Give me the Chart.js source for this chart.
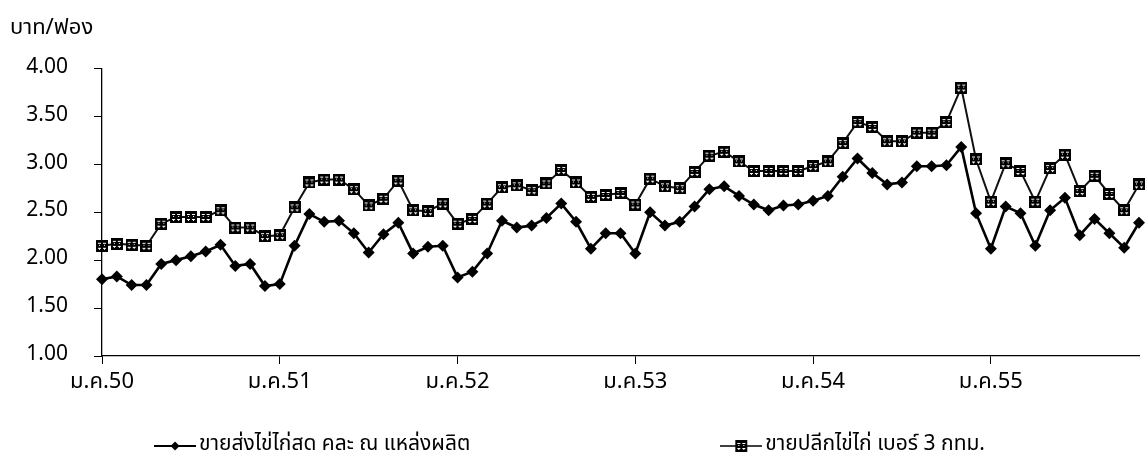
<!DOCTYPE html>
<html>
<head>
<meta charset="utf-8">
<script src="https://cdn.jsdelivr.net/npm/chart.js@4.4.0/dist/chart.umd.min.js"></script>
<style>
  html, body { margin: 0; padding: 0; background: #fff; }
</style>
</head>
<body>
<canvas id="eggChart" width="1147" height="469"></canvas>
<script>
// ปี / เดือน (ม.ค.50 - พ.ย.55)
const years = ['50', '51', '52', '53', '54', '55'];
const months = ['ม.ค.', 'ก.พ.', 'มี.ค.', 'เม.ย.', 'พ.ค.', 'มิ.ย.', 'ก.ค.', 'ส.ค.', 'ก.ย.', 'ต.ค.', 'พ.ย.', 'ธ.ค.'];
const pointCount = 71;

// ขายส่งไข่ไก่สด คละ ณ แหล่งผลิต
const wholesale = [
  1.80, 1.83, 1.74, 1.74, 1.96, 2.00, 2.04, 2.09, 2.16, 1.94, 1.96, 1.73,
  1.75, 2.15, 2.48, 2.40, 2.41, 2.28, 2.08, 2.27, 2.39, 2.07, 2.14, 2.15,
  1.82, 1.88, 2.07, 2.41, 2.34, 2.36, 2.44, 2.59, 2.40, 2.12, 2.28, 2.28,
  2.07, 2.50, 2.36, 2.40, 2.56, 2.74, 2.77, 2.67, 2.58, 2.52, 2.57, 2.58,
  2.62, 2.67, 2.87, 3.06, 2.91, 2.79, 2.81, 2.98, 2.98, 2.99, 3.18, 2.49,
  2.12, 2.56, 2.49, 2.15, 2.52, 2.65, 2.26, 2.43, 2.28, 2.13, 2.39
];

// ขายปลีกไข่ไก่ เบอร์ 3 กทม.
const retail = [
  2.15, 2.17, 2.16, 2.15, 2.38, 2.45, 2.45, 2.45, 2.52, 2.34, 2.34, 2.25,
  2.26, 2.55, 2.81, 2.84, 2.84, 2.74, 2.57, 2.64, 2.83, 2.52, 2.51, 2.59,
  2.38, 2.43, 2.59, 2.76, 2.78, 2.73, 2.80, 2.94, 2.81, 2.66, 2.68, 2.70,
  2.58, 2.85, 2.77, 2.75, 2.92, 3.09, 3.13, 3.03, 2.93, 2.93, 2.93, 2.93,
  2.98, 3.03, 3.22, 3.44, 3.39, 3.24, 3.24, 3.33, 3.33, 3.44, 3.80, 3.05,
  2.61, 3.01, 2.93, 2.61, 2.96, 3.10, 2.72, 2.88, 2.69, 2.52, 2.79
];

const seriesNames = ['ขายส่งไข่ไก่สด คละ ณ แหล่งผลิต', 'ขายปลีกไข่ไก่ เบอร์ 3 กทม.'];
const yTicks = [1.00, 1.50, 2.00, 2.50, 3.00, 3.50, 4.00];
const yTitle = 'บาท/ฟอง';

const FONT = 'Tahoma, "Noto Sans Thai", "Noto Sans", "DejaVu Sans", sans-serif';

// ป้ายแกน x
const labels = [];
years.forEach(y => months.forEach(m => labels.push(m + y)));
labels.length = pointCount;

// สี่เหลี่ยมลายตาราง (จุดของเส้นขายปลีก)
function makeSquare() {
  const c = document.createElement('canvas');
  c.width = 12; c.height = 12;
  const g = c.getContext('2d');
  g.fillStyle = '#000';
  g.fillRect(0, 0, 12, 12);
  g.fillStyle = '#fff';
  [[2, 3], [7, 3], [2, 8], [7, 8]].forEach(p => g.fillRect(p[0], p[1], 3, 1));
  [[3, 5], [8, 5], [3, 9], [8, 9]].forEach(p => g.fillRect(p[0], p[1], 1, 1));
  return c;
}

// ไอคอนคำอธิบาย: เส้น + จุด
function makeLegendIcon(kind) {
  const c = document.createElement('canvas');
  c.width = 42; c.height = 14;
  const g = c.getContext('2d');
  g.strokeStyle = '#000';
  g.lineWidth = kind === 'diamond' ? 2 : 1.5;
  g.beginPath(); g.moveTo(0, 7); g.lineTo(42, 7); g.stroke();
  g.fillStyle = '#000';
  if (kind === 'diamond') {
    g.beginPath(); g.moveTo(21, 2.5); g.lineTo(25.5, 7); g.lineTo(21, 11.5); g.lineTo(16.5, 7); g.closePath(); g.fill();
  } else {
    g.drawImage(makeSquare(), 15, 1);
  }
  return c;
}

const squareImg = makeSquare();
const legendIcons = [makeLegendIcon('diamond'), makeLegendIcon('square')];

const bottomLegend = {
  id: 'bottomLegend',
  afterDraw(chart) {
    const ctx = chart.ctx;
    ctx.save();
    ctx.font = '21px ' + FONT;
    ctx.textBaseline = 'middle';
    ctx.fillStyle = '#000';
    const gap = 250;
    const items = chart.data.datasets.map((ds, i) => ({
      text: ds.label, icon: legendIcons[i], w: ctx.measureText(ds.label).width
    }));
    const total = items.reduce((s, it) => s + it.icon.width + 3 + it.w, 0) + gap * (items.length - 1);
    let x = (chart.width - total) / 2 - 4;
    const y = 446;
    items.forEach(it => {
      ctx.drawImage(it.icon, x, y - it.icon.height / 2);
      x += it.icon.width + 3;
      ctx.fillText(it.text, x, y);
      x += it.w + gap;
    });
    ctx.restore();
  }
};

const ctx = document.getElementById('eggChart').getContext('2d');
new Chart(ctx, {
  type: 'line',
  data: {
    labels: labels,
    datasets: [
      {
        label: seriesNames[0],
        data: wholesale,
        borderColor: '#000',
        backgroundColor: '#000',
        borderWidth: 2.6,
        pointStyle: 'rectRot',
        pointRadius: 6,
        pointBorderWidth: 0,
        tension: 0
      },
      {
        label: seriesNames[1],
        data: retail,
        borderColor: '#111',
        backgroundColor: '#000',
        borderWidth: 2,
        pointStyle: squareImg,
        pointRadius: 6,
        tension: 0
      }
    ]
  },
  options: {
    responsive: false,
    animation: false,
    devicePixelRatio: 1,
    layout: { padding: { left: 10, right: 5, top: 0, bottom: 53 } },
    plugins: {
      legend: { display: false },
      tooltip: { enabled: false },
      title: {
        display: true,
        text: yTitle,
        align: 'start',
        color: '#000',
        font: { family: FONT, size: 22, weight: 'normal' },
        padding: { top: 16, bottom: 26 }
      }
    },
    scales: {
      x: {
        type: 'category',
        offset: false,
        border: { color: '#000', width: 1.3 },
        grid: {
          drawOnChartArea: false,
          drawTicks: true,
          tickLength: 8,
          color: c => (c.index % 12 === 0 ? '#000' : 'rgba(0,0,0,0)')
        },
        ticks: {
          autoSkip: false,
          maxRotation: 0,
          minRotation: 0,
          padding: 6,
          color: '#000',
          font: { family: FONT, size: 22 },
          callback: (v, i) => (i % 12 === 0 ? labels[i] : '')
        },
        afterFit: s => { s.height = 60; }
      },
      y: {
        min: yTicks[0],
        max: yTicks[yTicks.length - 1],
        border: { color: '#000', width: 1.3 },
        grid: { drawOnChartArea: false, drawTicks: true, tickLength: 8, color: '#000' },
        afterBuildTicks: s => { s.ticks = yTicks.map(v => ({ value: v })); },
        ticks: {
          padding: 26,
          color: '#000',
          font: { family: FONT, size: 21 },
          callback: v => Number(v).toFixed(2)
        },
        afterFit: s => { s.width = 92; }
      }
    }
  },
  plugins: [bottomLegend]
});
</script>
</body>
</html>
